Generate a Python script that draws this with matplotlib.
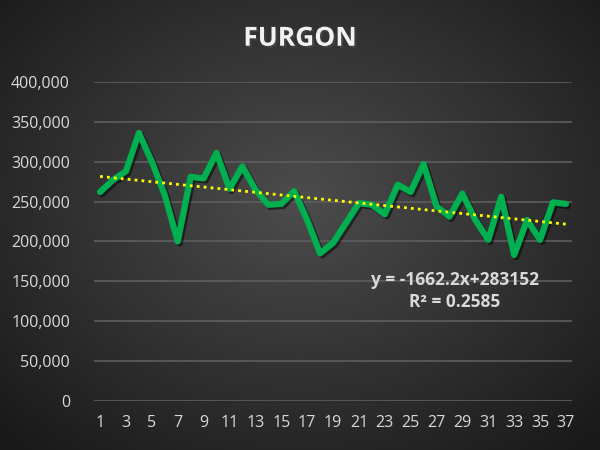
import numpy as np
import matplotlib.pyplot as plt
import matplotlib.patheffects as pe

# data
periods = np.arange(1, 38)
furgon = [262000, 277000, 288000, 336000, 300000, 258000, 200000, 281000, 279000, 311000,
          266000, 294000, 265000, 246000, 247000, 263000, 227000, 185000, 198000, 223000,
          248000, 246000, 234000, 271000, 262000, 297000, 244000, 231000, 260000, 227000,
          202000, 256000, 183000, 227000, 202000, 249000, 247000]
trend_slope = -1662.2
trend_intercept = 283152
r_squared = 0.2585
xtick_labels = list(range(1, 38, 2))
yticks = np.arange(0, 400001, 50000)

plt.rcParams['font.family'] = ['Open Sans', 'DejaVu Sans']

fig = plt.figure(figsize=(6, 4.5), dpi=100)

# radial gradient background
bg = fig.add_axes([0, 0, 1, 1], zorder=-10)
yy, xx = np.mgrid[0:450, 0:600]
r = np.sqrt(((xx - 300) / 420.0) ** 2 + ((yy - 200) / 330.0) ** 2)
shade = np.clip(0.30 - 0.20 * r, 0.10, 0.30)
bg.imshow(np.dstack([shade, shade, shade]), aspect='auto', extent=[0, 1, 0, 1])
bg.axis('off')

ax = fig.add_axes([0.156, 0.109, 0.798, 0.709])
ax.patch.set_alpha(0)
for s in ax.spines.values():
    s.set_visible(False)

ax.set_ylim(0, 400000)
ax.set_xlim(0.5, 37.5)
ax.set_yticks(yticks)
ax.set_yticklabels([f"{v:,}" for v in yticks])
ax.set_xticks(xtick_labels)
ax.set_xticklabels([str(v) for v in xtick_labels])
ax.tick_params(length=0, colors='#d9d9d9', labelsize=11.5)
ax.tick_params(axis='y', pad=17)
ax.tick_params(axis='x', pad=10)
ax.grid(axis='y', color='#5e5e5e', linewidth=1.2)
ax.set_axisbelow(True)

ax.plot(periods, furgon, color='#00b050', linewidth=4.5, solid_joinstyle='round',
        solid_capstyle='round',
        path_effects=[pe.SimpleLineShadow(offset=(1.5, -1.5), alpha=0.5), pe.Normal()])

trend = trend_slope * periods + trend_intercept
ax.plot(periods, trend, color='#ffff00', linewidth=2, linestyle=(0, (1, 1.5)))

ax.text(28.4, 138000, f"y = {trend_slope}x+{trend_intercept}\nR² = {r_squared}",
        color='#d9d9d9', fontsize=12.5, fontweight='bold', ha='center', va='center',
        linespacing=1.25)

fig.text(0.5, 0.915, "FURGON", color='#f2f2f2', fontsize=19, fontweight='bold',
         ha='center', va='center',
         path_effects=[pe.withSimplePatchShadow(offset=(1.5, -1.5), alpha=0.6)])

fig.savefig('out.png', dpi=100)
